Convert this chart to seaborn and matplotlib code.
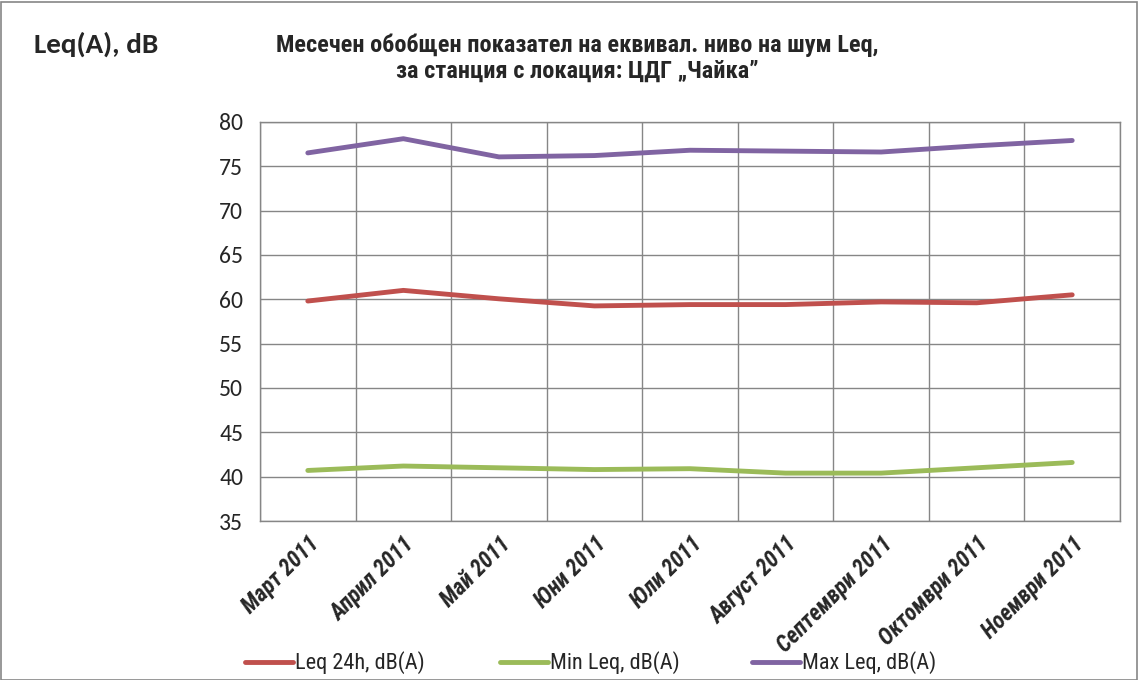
import pandas as pd
import seaborn as sns
import matplotlib.pyplot as plt
from matplotlib.ticker import FixedLocator, MultipleLocator

# Data
months = ["Март 2011", "Април 2011", "Май 2011", "Юни 2011", "Юли 2011",
          "Август 2011", "Септември 2011", "Октомври 2011", "Ноември 2011"]
leq_24h = [59.8, 61.0, 60.05, 59.25, 59.4, 59.4, 59.7, 59.6, 60.5]
min_leq = [40.7, 41.2, 41.0, 40.8, 40.9, 40.4, 40.4, 41.0, 41.6]
max_leq = [76.5, 78.1, 76.05, 76.2, 76.8, 76.7, 76.6, 77.3, 77.9]
series_names = ["Leq 24h, dB(A)", "Min Leq, dB(A)", "Max Leq, dB(A)"]
colors = ["#C0504D", "#9BBB59", "#8064A2"]

df = pd.DataFrame({"Month": months * 3,
                   "x": list(range(len(months))) * 3,
                   "Value": leq_24h + min_leq + max_leq,
                   "Series": [s for s in series_names for _ in months]})

sns.set_theme(style="white")
narrow = ["Roboto Condensed", "PT Sans Narrow", "DejaVu Sans"]
calibri = ["Carlito", "Open Sans", "DejaVu Sans"]
plt.rcParams["font.family"] = narrow

fig = plt.figure(figsize=(11.39, 6.8), dpi=100)
ax = fig.add_axes([0.2283, 0.2338, 0.755, 0.587])

sns.lineplot(data=df, x="x", y="Value", hue="Series", palette=colors,
             linewidth=3.5, ax=ax, legend=False, sort=False)

ax.set_xlim(-0.5, len(months) - 0.5)
ax.set_ylim(35, 80)
ax.yaxis.set_major_locator(MultipleLocator(5))
ax.set_xticks(range(len(months)))
ax.set_xticklabels(months, rotation=45, ha="right", rotation_mode="anchor",
                   fontsize=16.5, fontweight="bold", fontstyle="italic")
ax.xaxis.set_minor_locator(FixedLocator([i - 0.5 for i in range(len(months) + 1)]))
ax.grid(True, which="minor", axis="x", color="#868686", linewidth=1)
ax.grid(True, which="major", axis="y", color="#868686", linewidth=1)
ax.tick_params(axis="x", which="both", length=0, pad=8)
ax.tick_params(axis="y", length=0, pad=12, labelsize=17)
for lab in ax.get_yticklabels():
    lab.set_family(calibri)
for s in ax.spines.values():
    s.set_color("#868686")
    s.set_linewidth(1)
ax.set_xlabel("")
ax.set_ylabel("")

fig.text(0.03, 0.935, "Leq(A), dB", fontsize=21, fontweight="bold",
         family=calibri, va="center", ha="left")
fig.text(0.507, 0.915, "Месечен обобщен показател на еквивал. ниво на шум Leq,\nза станция с локация: ЦДГ „Чайка”",
         fontsize=17.5, fontweight="bold", ha="center", va="center", linespacing=1.15)

# one legend per entry, spaced like the reference
legend_x = [0.215, 0.439, 0.660]
for c, name, lx in zip(colors, series_names, legend_x):
    h = plt.Line2D([], [], color=c, linewidth=3.5)
    fig.legend([h], [name], loc="center left", bbox_to_anchor=(lx, 0.025),
               frameon=False, fontsize=16, handlelength=2.15, handletextpad=0.1,
               borderpad=0, borderaxespad=0)

fig.patches.append(plt.Rectangle((0.001, 0.0), 0.997, 0.997, transform=fig.transFigure,
                                 fill=False, edgecolor="#868686", linewidth=1.2))

fig.savefig("out.png", dpi=100)
